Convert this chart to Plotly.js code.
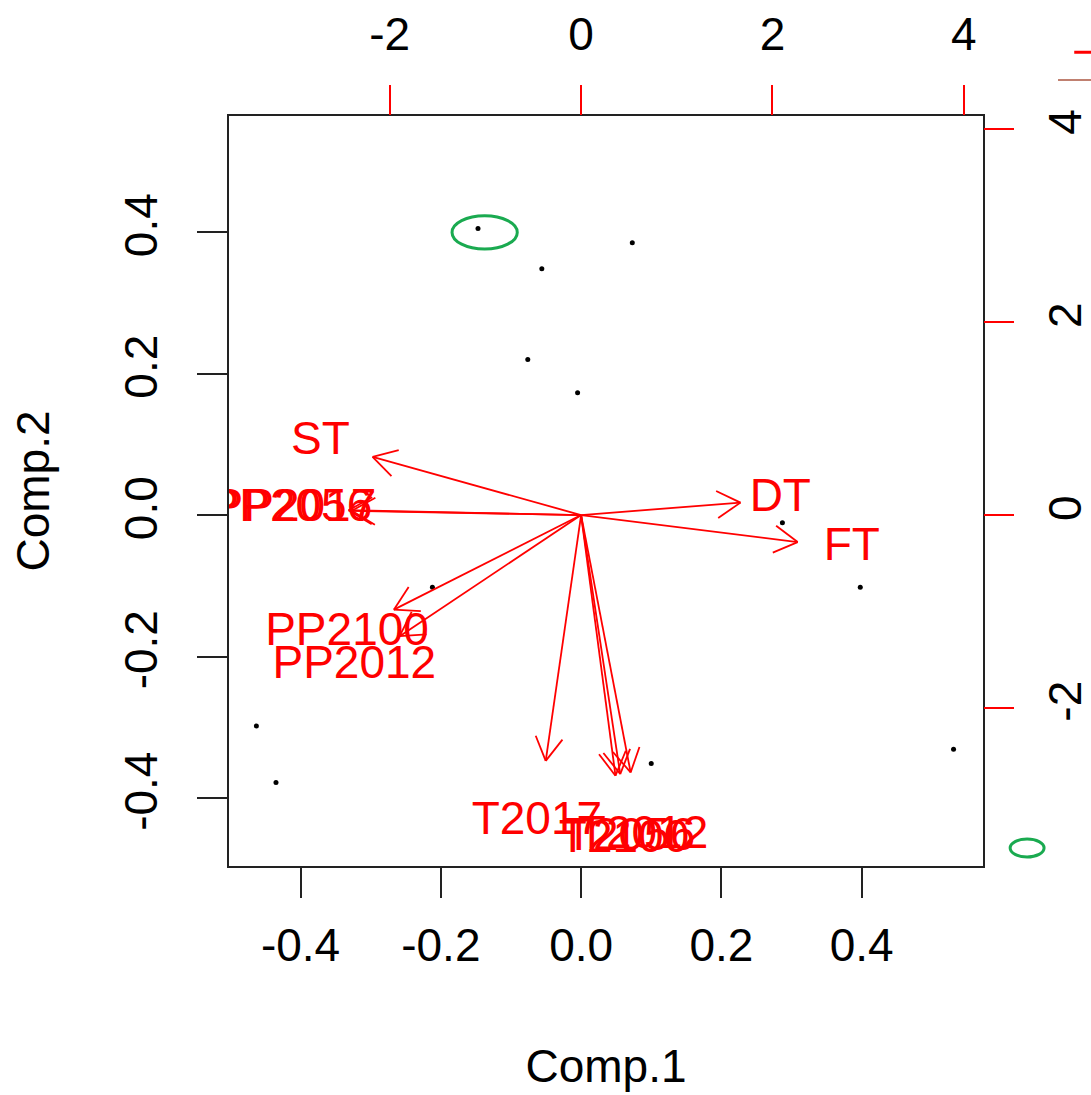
<!DOCTYPE html>
<html><head><meta charset="utf-8">
<script src="https://cdn.plot.ly/plotly-3.0.1.min.js"></script>
<style>html,body{margin:0;padding:0;background:#fff}</style>
</head><body><div id="chart" style="width:1091px;height:1095px"></div>
<script>
// Scores (Comp.1, Comp.2) of the observations
const scoreX = [-0.147, 0.073, -0.056, -0.076, -0.005, 0.287, 0.398, -0.212, -0.463, -0.435, 0.100, 0.531];
const scoreY = [0.405, 0.385, 0.348, 0.220, 0.173, -0.011, -0.102, -0.102, -0.298, -0.378, -0.351, -0.331];
// Variable loadings (label positions on the secondary scale)
const varNames = ['ST', 'DT', 'FT', 'PP2056', 'PP2017', 'PP2100', 'PP2012', 'T2017', 'T2012', 'T2100', 'T2056'];
const loadX = [-2.724, 2.082, 2.829, -3.038, -2.996, -2.446, -2.370, -0.462, 0.647, 0.449, 0.511];
const loadY = [0.753, 0.161, -0.350, 0.062, 0.055, -1.225, -1.568, -3.183, -3.333, -3.375, -3.354];
// Tick labels
const bottomTickVals = [-0.4, -0.2, 0, 0.2, 0.4];
const bottomTickText = ['-0.4', '-0.2', '0.0', '0.2', '0.4'];
const leftTickVals = [-0.4, -0.2, 0, 0.2, 0.4];
const leftTickText = ['-0.4', '-0.2', '0.0', '0.2', '0.4'];
const topTickVals = [-2, 0, 2, 4];
const topTickText = ['-2', '0', '2', '4'];
const rightTickVals = [-2, 0, 2, 4];
const rightTickText = ['-2', '0', '2', '4'];

const W = 1091, H = 1095;
const M = {l: 229, r: 108, t: 116, b: 229};
const xr = [-0.502, 0.573], yr = [-0.496, 0.564];
const k = 7.33;
const x2r = [xr[0] * k, xr[1] * k], y2r = [yr[0] * k, yr[1] * k];
const pxX = (W - M.l - M.r) / (x2r[1] - x2r[0]);
const pxY = (H - M.t - M.b) / (y2r[1] - y2r[0]);

const FONT = 'Liberation Sans, Arial, sans-serif';
const RED = '#ff0000';

// arrows: shafts to 0.8 * loading, open V heads
const ax = [], ay = [];
const headLen = 27, headAng = Math.PI / 6;
for (let i = 0; i < varNames.length; i++) {
  const tx = loadX[i] * 0.8, ty = loadY[i] * 0.8;
  ax.push(0, tx, null);
  ay.push(0, ty, null);
  const dx = tx * pxX, dy = ty * pxY;
  const len = Math.hypot(dx, dy);
  const ux = -dx / len, uy = -dy / len;
  for (const s of [1, -1]) {
    const a = s * headAng;
    const rx = ux * Math.cos(a) - uy * Math.sin(a);
    const ry = ux * Math.sin(a) + uy * Math.cos(a);
    ax.push(tx, tx + rx * headLen / pxX, null);
    ay.push(ty, ty + ry * headLen / pxY, null);
  }
}

const traces = [
  {type: 'scatter', mode: 'markers', x: scoreX, y: scoreY, xaxis: 'x', yaxis: 'y',
   marker: {color: '#000', size: 5}, hoverinfo: 'skip', showlegend: false},
  {type: 'scatter', mode: 'lines', x: ax, y: ay, xaxis: 'x2', yaxis: 'y2',
   line: {color: RED, width: 1.8}, hoverinfo: 'skip', showlegend: false, cliponaxis: true},
  {type: 'scatter', mode: 'text', x: loadX, y: loadY, text: varNames, xaxis: 'x2', yaxis: 'y2',
   textposition: 'middle center', textfont: {family: FONT, size: 46, color: RED},
   cliponaxis: true, hoverinfo: 'skip', showlegend: false}
];

const tickFont = {family: FONT, size: 46, color: '#000'};
const layout = {
  width: W, height: H, autosize: false,
  margin: M,
  paper_bgcolor: '#fff', plot_bgcolor: '#fff',
  showlegend: false,
  xaxis: {range: xr, tickvals: bottomTickVals, ticktext: bottomTickText, ticks: 'outside', ticklen: 30,
          tickwidth: 2, tickcolor: '#222', showline: true, mirror: true, linecolor: '#222', linewidth: 2,
          showgrid: false, zeroline: false, tickfont: tickFont, ticklabelstandoff: 8,
          title: {text: 'Comp.1', font: tickFont, standoff: 80}},
  yaxis: {range: yr, tickvals: leftTickVals, ticktext: leftTickText, ticks: 'outside', ticklen: 30,
          tickwidth: 2, tickcolor: '#222', showline: true, mirror: true, linecolor: '#222', linewidth: 2,
          showgrid: false, zeroline: false, tickfont: tickFont, tickangle: -90, ticklabelstandoff: 22,
          title: {text: 'Comp.2', font: tickFont, standoff: 50}},
  xaxis2: {range: x2r, overlaying: 'x', side: 'top', anchor: 'y', tickvals: topTickVals, ticktext: topTickText,
           ticks: 'outside', ticklen: 30, tickwidth: 2, tickcolor: RED, showline: false,
           showgrid: false, zeroline: false, tickfont: tickFont, ticklabelstandoff: 17},
  yaxis2: {range: y2r, overlaying: 'y', side: 'right', anchor: 'x', tickvals: rightTickVals, ticktext: rightTickText,
           ticks: 'outside', ticklen: 30, tickwidth: 2, tickcolor: RED, showline: false,
           showgrid: false, zeroline: false, tickfont: tickFont, tickangle: -90, ticklabelstandoff: 12},
  shapes: [
    {type: 'circle', xref: 'x', yref: 'y', x0: -0.184, x1: -0.091, y0: 0.376, y1: 0.423,
     line: {color: '#1aaa50', width: 3}},
    {type: 'circle', xref: 'paper', yref: 'paper', x0: 1.036, x1: 1.081, y0: 0.012, y1: 0.036,
     line: {color: '#1aaa50', width: 3}},
    {type: 'line', xref: 'paper', yref: 'paper', x0: 1.121, x1: 1.15, y0: 1.085, y1: 1.085,
     line: {color: RED, width: 3}},
    {type: 'line', xref: 'paper', yref: 'paper', x0: 1.0995, x1: 1.15, y0: 1.048, y1: 1.048,
     line: {color: '#c08070', width: 2}}
  ]
};

Plotly.newPlot('chart', traces, layout, {displayModeBar: false, staticPlot: true});
</script>
</body></html>
